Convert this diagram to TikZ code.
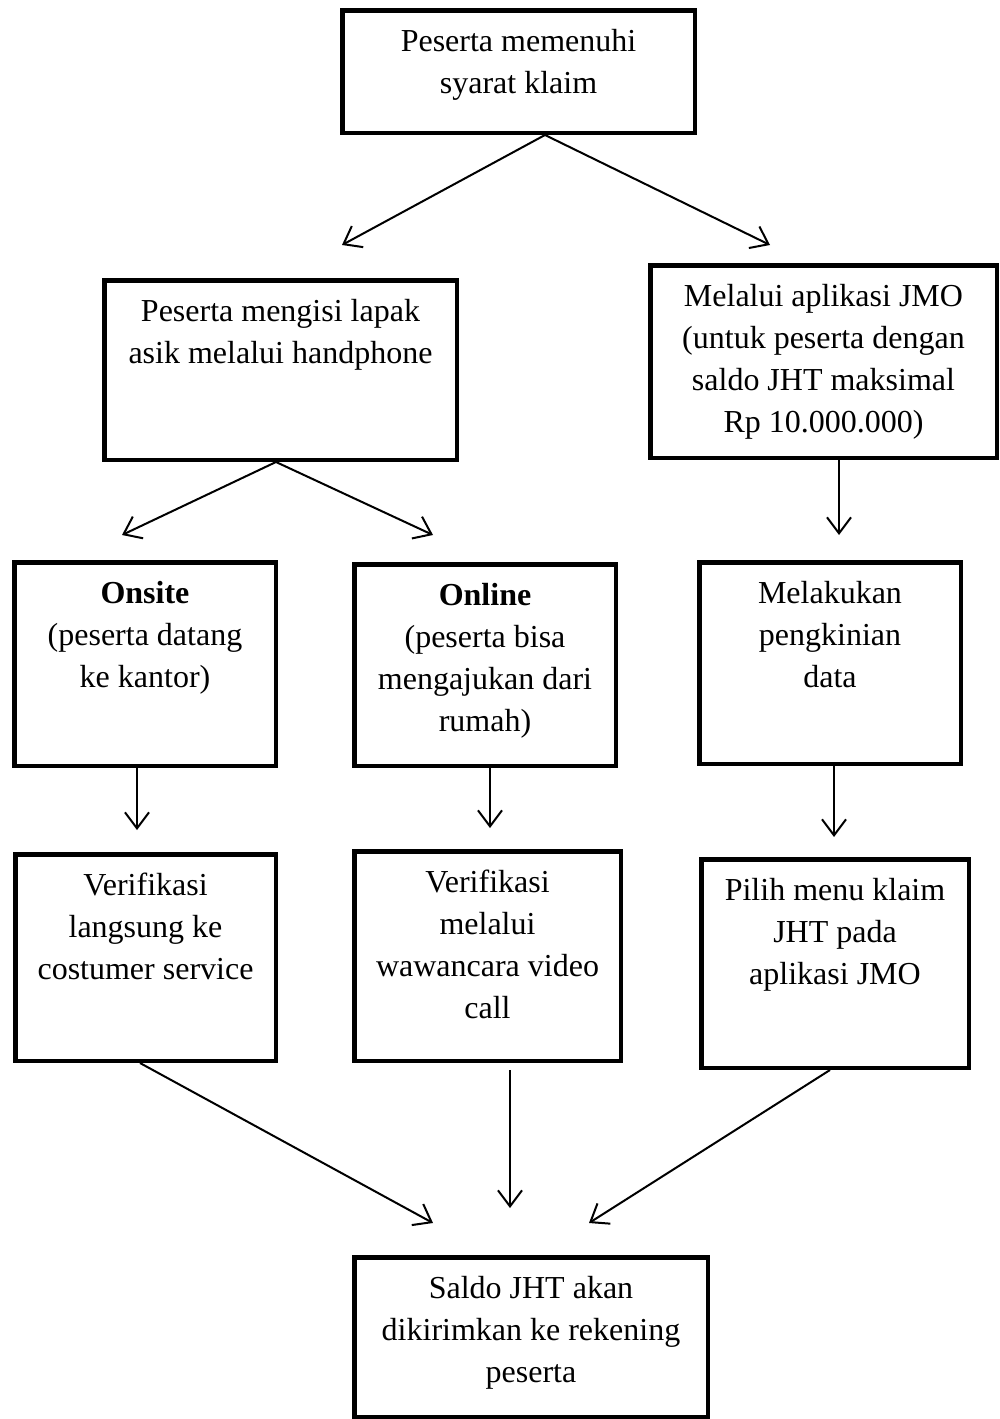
\documentclass[tikz,border=0pt]{standalone}
\usepackage{fontspec}
\setmainfont{Liberation Serif}
\usetikzlibrary{arrows.meta}
\begin{document}
\begin{tikzpicture}[x=1pt,y=-1pt,
  boxnode/.style={draw=black,line width=4.5pt,rectangle,inner sep=0pt},
  txt/.style={anchor=north,align=center,inner sep=0pt,font=\fontsize{32}{41.8}\selectfont},
  arr/.style={line width=2pt,-{Straight Barb[length=16pt,width=24pt]}}]
\useasboundingbox (0,0) rectangle (1000,1419);
% boxes
\node[boxnode,minimum width=352.5pt,minimum height=122.5pt] (top) at (518.5,71.5) {};
\node[boxnode,minimum width=352.5pt,minimum height=179.5pt] (lapak) at (280.5,370) {};
\node[boxnode,minimum width=346.5pt,minimum height=192.5pt] (jmo) at (823.5,361.5) {};
\node[boxnode,minimum width=261.5pt,minimum height=203.5pt] (onsite) at (145,664) {};
\node[boxnode,minimum width=261.5pt,minimum height=201.5pt] (online) at (485,665) {};
\node[boxnode,minimum width=261.5pt,minimum height=201.5pt] (update) at (830,663) {};
\node[boxnode,minimum width=260.5pt,minimum height=206.5pt] (verif1) at (145.5,957.5) {};
\node[boxnode,minimum width=266.5pt,minimum height=209.5pt] (verif2) at (487.5,956) {};
\node[boxnode,minimum width=267.5pt,minimum height=208.5pt] (pilih) at (835,963.5) {};
\node[boxnode,minimum width=353.5pt,minimum height=159.5pt] (saldo) at (531,1337) {};
% texts
\node[txt] (ttop) at ([yshift=-14.5pt]top.north) {\strut Peserta memenuhi\\syarat klaim};
\node[txt] (tlapak) at ([yshift=-14.5pt]lapak.north) {\strut Peserta mengisi lapak\\asik melalui handphone};
\node[txt] (tjmo) at ([yshift=-14.5pt]jmo.north) {\strut Melalui aplikasi JMO\\(untuk peserta dengan\\saldo JHT maksimal\\Rp 10.000.000)};
\node[txt] (tonsite) at ([yshift=-14.5pt]onsite.north) {\strut\textbf{Onsite}\\(peserta datang\\ke kantor)};
\node[txt] (tonline) at ([yshift=-14.5pt]online.north) {\strut\textbf{Online}\\(peserta bisa\\mengajukan dari\\rumah)};
\node[txt] (tupdate) at ([yshift=-14.5pt]update.north) {\strut Melakukan\\pengkinian\\data};
\node[txt] (tverif1) at ([yshift=-14.5pt]verif1.north) {\strut Verifikasi\\langsung ke\\costumer service};
\node[txt] (tverif2) at ([yshift=-14.5pt]verif2.north) {\strut Verifikasi\\melalui\\wawancara video\\call};
\node[txt] (tpilih) at ([yshift=-14.5pt]pilih.north) {\strut Pilih menu klaim\\JHT pada\\aplikasi JMO};
\node[txt] (tsaldo) at ([yshift=-14.5pt]saldo.north) {\strut Saldo JHT akan\\dikirimkan ke rekening\\peserta};
% free arrow ends
\coordinate (e1) at (342,245);
\coordinate (e2) at (770,245);
\coordinate (e3) at (122,535);
\coordinate (e4) at (433,535);
\coordinate (e5) at (839,535);
\coordinate (e6) at (137,830);
\coordinate (e7) at (490,828);
\coordinate (e8) at (834,837);
\coordinate (e9) at (433,1223);
\coordinate (e10) at (510,1208);
\coordinate (e11) at (589,1223);
% arrows
\draw[arr] ([xshift=26.5pt]top.south) -- (e1);
\draw[arr] ([xshift=26.5pt]top.south) -- (e2);
\draw[arr] ([xshift=-4.5pt]lapak.south) -- (e3);
\draw[arr] ([xshift=-4.5pt]lapak.south) -- (e4);
\draw[arr] ([xshift=15.5pt]jmo.south) -- (e5);
\draw[arr] ([xshift=-8pt]onsite.south) -- (e6);
\draw[arr] ([xshift=5pt]online.south) -- (e7);
\draw[arr] ([xshift=4pt]update.south) -- (e8);
\draw[arr] ([xshift=-5.5pt]verif1.south) -- (e9);
\draw[arr] ([xshift=22.5pt,yshift=-7pt]verif2.south) -- (e10);
\draw[arr] ([xshift=-5pt]pilih.south) -- (e11);
\end{tikzpicture}
\end{document}
